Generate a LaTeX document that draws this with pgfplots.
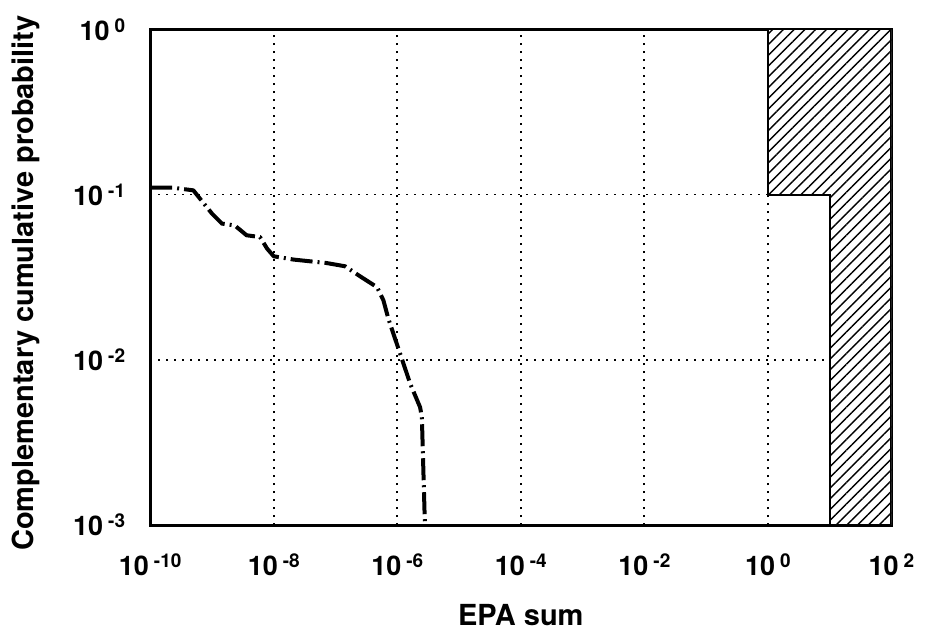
\documentclass[border=0pt]{standalone}
\usepackage{fontspec}
\setmainfont{TeX Gyre Heros}
\usepackage{pgfplots}
\pgfplotsset{compat=1.18}
\usetikzlibrary{patterns.meta}
\newcommand{\tl}[1]{\bfseries 10\hspace{2.5pt}\raisebox{4pt}{\fontsize{9.5}{9.5}\selectfont\bfseries #1}}
\begin{document}
\begin{tikzpicture}
\begin{axis}[
  name=ax,
  scale only axis,
  width=370.65pt, height=247.85pt,
  xmode=log, ymode=log,
  xmin=1e-10, xmax=1e2, ymin=1e-3, ymax=1,
  xtick={1e-10,1e-8,1e-6,1e-4,1e-2,1,1e2},
  xticklabels={\tl{-10},\tl{-8},\tl{-6},\tl{-4},\tl{-2},\tl{0},\tl{2}},
  ytick={1e-3,1e-2,1e-1,1},
  yticklabels={\tl{-3},\tl{-2},\tl{-1},\tl{0}},
  minor tick num=0,
  major tick length=0pt, minor tick length=0pt,
  xminorticks=false, yminorticks=false,
  grid=major,
  major grid style={black, line width=0.9pt, dash pattern=on 0.9pt off 3.1pt},
  axis line style={line width=1.5pt},
  xticklabel style={font=\fontsize{13.5}{13.5}\selectfont\bfseries, yshift=-11pt},
  yticklabel style={font=\fontsize{13.5}{13.5}\selectfont\bfseries, xshift=-9pt},
  xlabel={EPA sum},
  ylabel={Complementary cumulative probability},
  xlabel style={at={(axis description cs:0.5,0)}, anchor=center, yshift=-45pt, font=\fontsize{14.5}{14.5}\selectfont\bfseries},
  ylabel style={at={(axis description cs:0,0.488)}, anchor=center, rotate=0, yshift=62pt, font=\fontsize{14.5}{14.5}\selectfont\bfseries},
  clip=true,
]
\addplot[draw=black, line width=1pt, fill=white,
  postaction={pattern={Lines[angle=45, distance=3.8pt, line width=0.7pt]}}]
  coordinates {(1,1) (1,0.1) (10,0.1) (10,1e-3) (100,1e-3) (100,1)} -- cycle;
\addplot[black, line width=2pt, dash pattern=on 11pt off 2.5pt on 1pt off 2.5pt, line join=round]
  coordinates {
  (1e-10, 0.110)
  (2.34e-10, 0.110)
  (5.0e-10, 0.106)
  (1.0e-9, 0.0767)
  (1.45e-9, 0.0667)
  (2.34e-9, 0.065)
  (3.63e-9, 0.0567)
  (6.0e-9, 0.0553)
  (7.8e-9, 0.0471)
  (1.0e-8, 0.0423)
  (2.1e-8, 0.0404)
  (7.2e-8, 0.0385)
  (1.43e-7, 0.0368)
  (2.5e-7, 0.032)
  (4.7e-7, 0.0275)
  (5.96e-7, 0.0229)
  (7.18e-7, 0.0177)
  (1.11e-6, 0.0109)
  (1.62e-6, 0.00716)
  (2.34e-6, 0.00516)
  (2.5e-6, 0.00449)
  (2.8e-6, 0.001)
  };
\end{axis}
\pgfresetboundingbox
\useasboundingbox ([xshift=-75.1pt, yshift=-58pt]ax.south west) rectangle ([xshift=18.25pt, yshift=14.65pt]ax.north east);
\end{tikzpicture}
\end{document}
